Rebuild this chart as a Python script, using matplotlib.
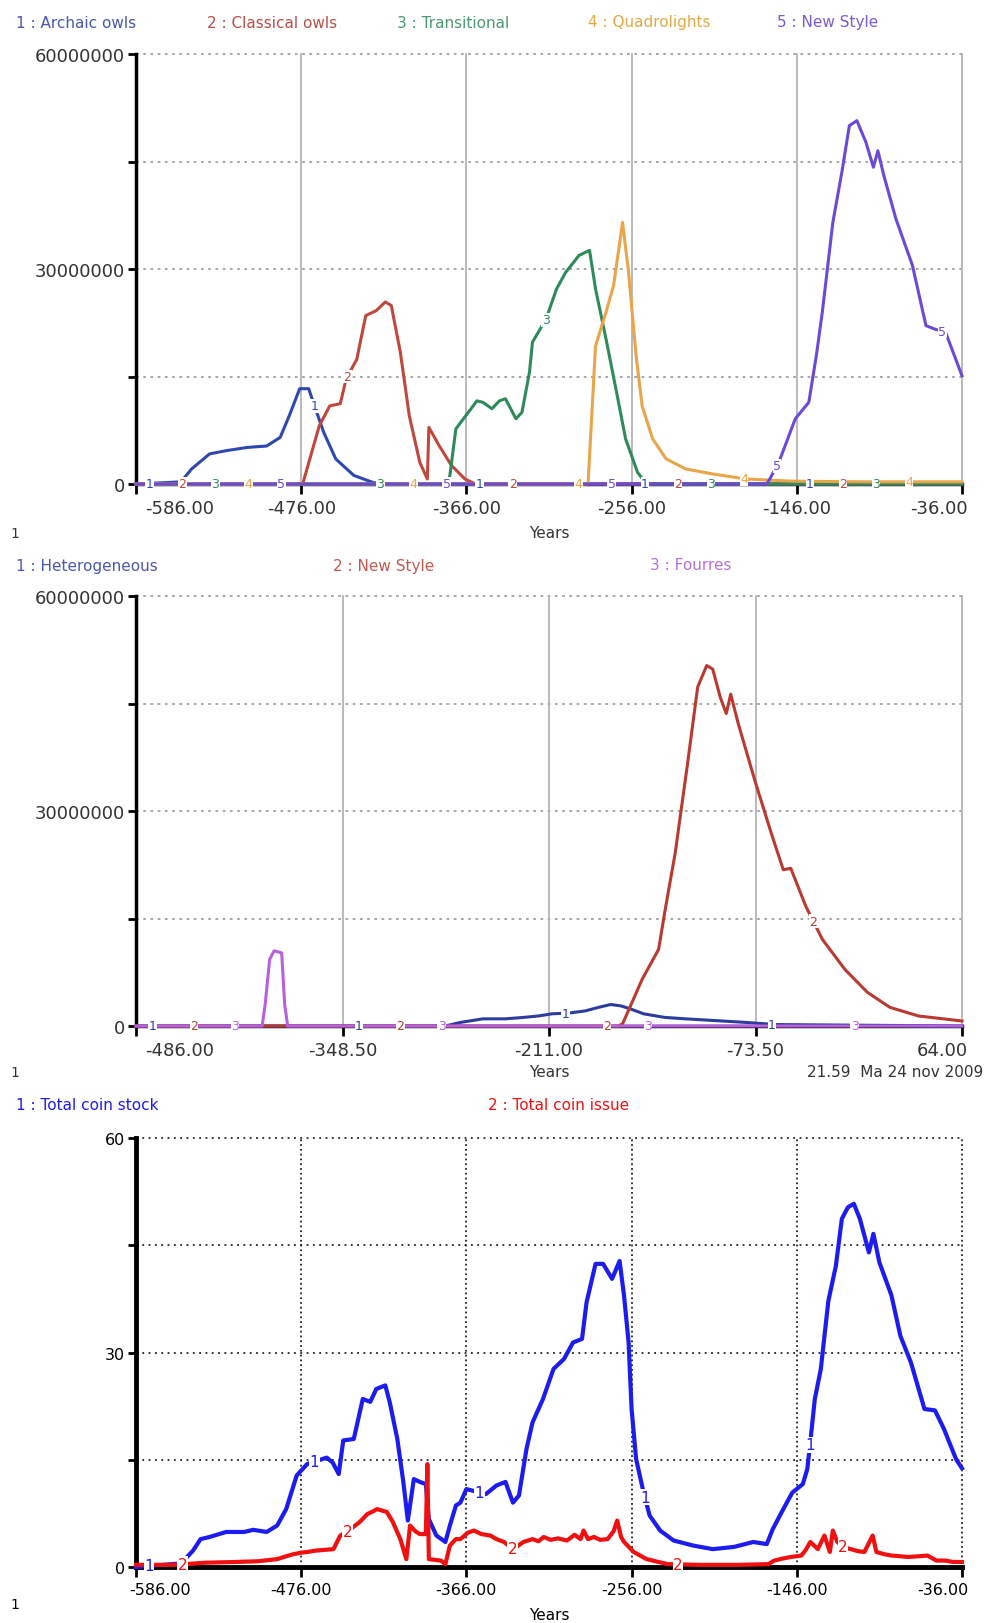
import numpy as np
import matplotlib.pyplot as plt
from matplotlib.transforms import ScaledTranslation

# ---- panel 1: stock by coin type (millions of coins) ----
arch_years = [-586, -556, -549, -537, -526, -512, -499, -490, -484, -477, -471, -468, -461, -453, -441, -428, -420, -36]
arch_vals = [0, 0.3, 2.1, 4.2, 4.65, 5.1, 5.3, 6.5, 9.5, 13.3, 13.3, 11.4, 7.2, 3.5, 1.2, 0.2, 0, 0]

class_years = [-586, -475, -464, -457, -450, -446, -439, -433, -426, -420, -416, -410, -404, -397, -392, -391, -384, -376, -367, -360, -36]
class_vals = [0, 0, 8.1, 10.9, 11.2, 14.7, 17.4, 23.5, 24.2, 25.4, 24.9, 18.4, 9.5, 3.0, 0.7, 7.9, 5.3, 2.6, 0.7, 0, 0]

trans_years = [-586, -379, -377, -373, -364, -359, -355, -349, -344, -340, -333, -329, -324, -322, -313, -306, -300, -291, -284, -280, -273, -266, -260, -252, -246, -36]
trans_vals = [0, 0, 1.2, 7.7, 10.2, 11.6, 11.4, 10.5, 11.6, 11.9, 9.1, 10.0, 15.6, 19.8, 23.0, 27.2, 29.5, 31.9, 32.6, 27.2, 20.2, 12.8, 6.3, 1.6, 0, 0]

quad_years = [-586, -285, -280, -273, -268, -262, -258, -253, -249, -242, -233, -220, -202, -180, -150, -100, -36]
quad_vals = [0, 0, 19.3, 24.0, 27.7, 36.5, 29.5, 17.9, 10.9, 6.3, 3.5, 2.1, 1.4, 0.7, 0.4, 0.3, 0.3]

news_years = [-586, -166, -164, -158, -147, -138, -133, -129, -122, -116, -111, -106, -100, -95, -92, -88, -80, -69, -60, -54, -47, -36]
news_vals = [0, 0, 0.7, 3.0, 9.1, 11.4, 17.9, 24.0, 36.5, 43.5, 50.0, 50.7, 47.7, 44.2, 46.5, 43.0, 37.0, 30.5, 22.1, 21.6, 21.2, 15.1]

p1_names = ["1 : Archaic owls", "2 : Classical owls", "3 : Transitional", "4 : Quadrolights", "5 : New Style"]
p1_colors = ["#2f48b0", "#c0473c", "#2f8a5a", "#eaa54a", "#6a4ad6"]
p1_text_colors = ["#4a58a8", "#b85048", "#4a9a70", "#e2aa44", "#7a5ad0"]
p1_ticks = [-586, -476, -366, -256, -146, -36]

# ---- panel 2: heterogeneous / new style / fourree (millions) ----
het_years = [-486, -280, -270, -255, -240, -228, -218, -209, -198, -187, -178, -170, -163, -157, -148, -134, -120, -104, -80, -60, 64]
het_vals = [0, 0, 0.5, 1.0, 1.0, 1.2, 1.4, 1.7, 1.8, 2.1, 2.6, 3.0, 2.8, 2.4, 1.7, 1.2, 1.0, 0.8, 0.5, 0.2, 0]

ns2_years = [-486, -165, -162, -149, -138, -134, -127, -119, -112, -106, -102, -97, -93, -90, -85, -74, -63, -55, -50, -40, -29, -14, 1, 16, 35, 64]
ns2_vals = [0, 0, 0.3, 6.5, 10.7, 15.8, 24.1, 36.2, 47.3, 50.3, 49.8, 45.9, 43.6, 46.3, 42.2, 34.3, 26.9, 21.8, 22.0, 16.7, 12.1, 7.9, 4.7, 2.6, 1.4, 0.7]

four_years = [-486, -402, -400, -397, -394, -389, -387, -385, 64]
four_vals = [0, 0, 3.0, 9.3, 10.5, 10.2, 3.0, 0, 0]

p2_names = ["1 : Heterogeneous", "2 : New Style", "3 : Fourres"]
p2_colors = ["#2e3c9e", "#b83a30", "#b860e0"]
p2_text_colors = ["#4a58b0", "#c05a50", "#b870e0"]
p2_ticks = [-486, -348.5, -211, -73.5, 64]

# ---- panel 3: totals (millions) ----
stock_years = [-586, -556, -548, -543, -537, -526, -514, -508, -499, -492, -486, -479, -472, -459, -455, -451, -448,
               -441, -435, -430, -426, -420, -417, -412, -408, -405, -401, -397, -393, -391, -386, -380, -377, -373,
               -370, -366, -353, -346, -340, -335, -331, -326, -322, -315, -308, -301, -295, -289, -286, -280, -275,
               -269, -264, -261, -258, -256, -253, -248, -244, -237, -228, -215, -202, -188, -175, -166, -162, -155,
               -149, -142, -139, -137, -134, -130, -125, -120, -116, -112, -108, -104, -98, -95, -91, -83, -77, -70,
               -61, -54, -48, -40, -36]
stock_vals = [0, 0.5, 2.3, 3.9, 4.2, 4.9, 4.9, 5.2, 4.9, 5.8, 8.1, 12.8, 14.4, 15.3, 14.6, 13.0, 17.7,
              17.9, 23.5, 23.1, 24.9, 25.4, 23.0, 17.9, 11.9, 6.5, 12.3, 11.9, 11.6, 6.7, 4.4, 3.5, 5.8, 8.6,
              9.0, 10.9, 10.2, 11.4, 11.9, 9.0, 10.0, 16.5, 20.2, 23.5, 27.7, 29.1, 31.4, 31.9, 37.0, 42.4, 42.4,
              40.3, 42.8, 37.9, 31.4, 22.1, 15.1, 10.4, 7.2, 5.1, 3.7, 3.0, 2.5, 2.8, 3.5, 3.2, 5.3, 8.1,
              10.4, 11.6, 13.7, 17.5, 23.5, 27.7, 37.2, 42.1, 48.7, 50.3, 50.8, 48.7, 44.0, 46.6, 42.6, 38.0, 32.3, 28.6,
              22.1, 21.9, 19.3, 15.1, 13.8]

issue_years = [-586, -560, -540, -520, -505, -492, -486, -481, -476, -472, -466, -460, -454.5, -450, -445, -437,
               -432, -428, -425.5, -419, -415, -410, -406, -403.5, -400, -397, -393, -392, -391, -383, -380, -377,
               -373, -370, -365, -361, -356, -350, -346, -341, -335, -328, -322, -318, -314.5, -310, -305, -299,
               -294, -290, -288, -285, -281, -277, -272, -268, -265.6, -263, -261, -254.6, -246, -232, -210, -185,
               -165, -161, -155, -150, -143, -140, -137, -132, -127.6, -124, -122, -119, -114, -110, -105, -101,
               -95.5, -93, -88, -83, -77, -72, -65, -59, -53, -47, -42, -36]
issue_vals = [0.3, 0.3, 0.6, 0.7, 0.8, 1.1, 1.5, 1.8, 2.0, 2.1, 2.3, 2.4, 2.5, 4.4, 5.0, 6.3,
              7.4, 7.8, 8.1, 7.7, 6.3, 3.9, 1.1, 5.8, 5.0, 4.6, 4.6, 14.4, 1.1, 0.9, 0.4, 3.0,
              3.9, 3.9, 4.8, 5.1, 4.6, 4.4, 3.9, 3.5, 2.5, 3.5, 3.9, 3.6, 4.2, 3.8, 4.0, 3.7,
              4.5, 3.9, 5.1, 3.9, 4.2, 3.8, 3.9, 5.0, 6.5, 4.2, 3.5, 2.1, 1.1, 0.4, 0.3, 0.3,
              0.4, 0.9, 1.2, 1.4, 1.6, 2.4, 3.5, 2.5, 4.4, 2.1, 5.1, 3.5, 2.7, 2.5, 2.2, 2.1,
              4.4, 2.1, 1.8, 1.6, 1.5, 1.4, 1.5, 1.6, 0.9, 0.9, 0.7, 0.7]

p3_names = ["1 : Total coin stock", "2 : Total coin issue"]
p3_colors = ["#1c1cf0", "#f01010"]
p3_ticks = [-586, -476, -366, -256, -146, -36]

W, H = 986, 1624
fig = plt.figure(figsize=(W / 100, H / 100), dpi=100)


def fpos(x, y):
    return x / W, 1 - y / H


def add_panel(top, bottom):
    return fig.add_axes([136 / W, 1 - bottom / H, (962 - 136) / W, (bottom - top) / H])


def style_axes(ax, xticks, ytop, grid_color, hgrid_style, vgrid_style, spine_w, fs, txt_color, first_dx, last_dx):
    ax.set_xlim(xticks[0], xticks[-1])
    ax.set_ylim(0, ytop)
    ax.set_xticks(xticks)
    ax.set_xticklabels(["%.2f" % t for t in xticks])
    ax.set_yticks([0, ytop / 2, ytop])
    ax.set_yticks([ytop / 4, ytop * 3 / 4], minor=True)
    ax.set_yticklabels(["0", "%d" % (ytop / 2), "%d" % ytop])
    for s in ["top", "right"]:
        ax.spines[s].set_visible(False)
    ax.spines["left"].set_linewidth(spine_w)
    ax.spines["bottom"].set_linewidth(spine_w)
    ax.tick_params(axis="x", direction="out", length=7, width=2, pad=4, labelsize=fs, labelcolor=txt_color)
    ax.tick_params(axis="y", which="both", direction="out", length=6, width=2, pad=2, labelsize=fs,
                   labelcolor=txt_color)
    labels = ax.get_xticklabels()
    labels[0].set_horizontalalignment("left")
    labels[0].set_transform(labels[0].get_transform() + ScaledTranslation(first_dx / 100, 0, fig.dpi_scale_trans))
    labels[-1].set_horizontalalignment("right")
    labels[-1].set_transform(labels[-1].get_transform() + ScaledTranslation(last_dx / 100, 0, fig.dpi_scale_trans))
    for y in [ytop / 4, ytop / 2, ytop * 3 / 4, ytop]:
        ax.axhline(y, color=grid_color, lw=1.3, linestyle=hgrid_style, zorder=1, clip_on=False)
    for x in xticks[1:]:
        ax.axvline(x, color=grid_color if vgrid_style == ":" else "#b4b4b4", lw=1.3,
                   linestyle=vgrid_style, zorder=1, clip_on=False)


def put_labels(ax, series, colors, xticks, fs):
    step = xticks[1] - xticks[0]
    for i, (xs, ys) in enumerate(series):
        k = 0
        while True:
            x = xticks[0] + step * (0.08 + 0.2 * i) + step * k
            if x >= xticks[-1]:
                break
            y = np.interp(x, xs, ys)
            ax.text(x, y, str(i + 1), color=colors[i], fontsize=fs, ha="center", va="center", zorder=6,
                    bbox=dict(facecolor="white", edgecolor="none", pad=0.3), clip_on=False)
            k += 1


# ---------- panel 1 ----------
ax1 = add_panel(55, 485)
style_axes(ax1, p1_ticks, 60000000, "#a0a0a0", (0, (1.5, 2.5)), "-", 2.5, 13, "#333333", 9, 6)
p1_series = [(arch_years, arch_vals), (class_years, class_vals), (trans_years, trans_vals),
             (quad_years, quad_vals), (news_years, news_vals)]
p1_scaled = [(xs, np.array(ys) * 1e6) for xs, ys in p1_series]
for (xs, ys), c in zip(p1_scaled, p1_colors):
    ax1.plot(xs, ys, color=c, lw=2.2, zorder=3, clip_on=False)
put_labels(ax1, p1_scaled, p1_colors, p1_ticks, 9)
for name, x, c in zip(p1_names, [16, 207, 397, 588, 777], p1_text_colors):
    fig.text(*fpos(x, 23), name, color=c, fontsize=11, va="center")
fig.text(*fpos(549, 534), "Years", fontsize=11, ha="center", va="center", color="#333333")
fig.text(*fpos(10, 534), "1", fontsize=10, va="center", color="#333333")

# ---------- panel 2 ----------
ax2 = add_panel(597, 1027)
style_axes(ax2, p2_ticks, 60000000, "#a0a0a0", (0, (1.5, 2.5)), "-", 2.5, 13, "#333333", 9, 6)
p2_series = [(het_years, het_vals), (ns2_years, ns2_vals), (four_years, four_vals)]
p2_scaled = [(xs, np.array(ys) * 1e6) for xs, ys in p2_series]
for (xs, ys), c in zip(p2_scaled, p2_colors):
    ax2.plot(xs, ys, color=c, lw=2.2, zorder=3, clip_on=False)
put_labels(ax2, p2_scaled, p2_colors, p2_ticks, 9)
for name, x, c in zip(p2_names, [16, 333, 650], p2_text_colors):
    fig.text(*fpos(x, 566), name, color=c, fontsize=11, va="center")
fig.text(*fpos(549, 1073), "Years", fontsize=11, ha="center", va="center", color="#333333")
fig.text(*fpos(983, 1073), "21.59  Ma 24 nov 2009", fontsize=11, ha="right", va="center", color="#333333")
fig.text(*fpos(10, 1073), "1", fontsize=10, va="center", color="#333333")

# ---------- panel 3 ----------
ax3 = add_panel(1139, 1568)
style_axes(ax3, p3_ticks, 60, "#222222", (0, (1, 2.5)), ":", 3.5, 11.5, "black", -7, 7)
p3_series = [(stock_years, stock_vals), (issue_years, issue_vals)]
for (xs, ys), c in zip(p3_series, p3_colors):
    ax3.plot(xs, ys, color=c, lw=3, zorder=3, clip_on=False)
put_labels(ax3, p3_series, p3_colors, p3_ticks, 11)
for name, x, c in zip(p3_names, [16, 488], p3_colors):
    fig.text(*fpos(x, 1106), name, color=c, fontsize=11, va="center")
fig.text(*fpos(549, 1616), "Years", fontsize=11, ha="center", va="center")
fig.text(*fpos(10, 1605), "1", fontsize=10, va="center")

fig.savefig("out.png", dpi=100)
